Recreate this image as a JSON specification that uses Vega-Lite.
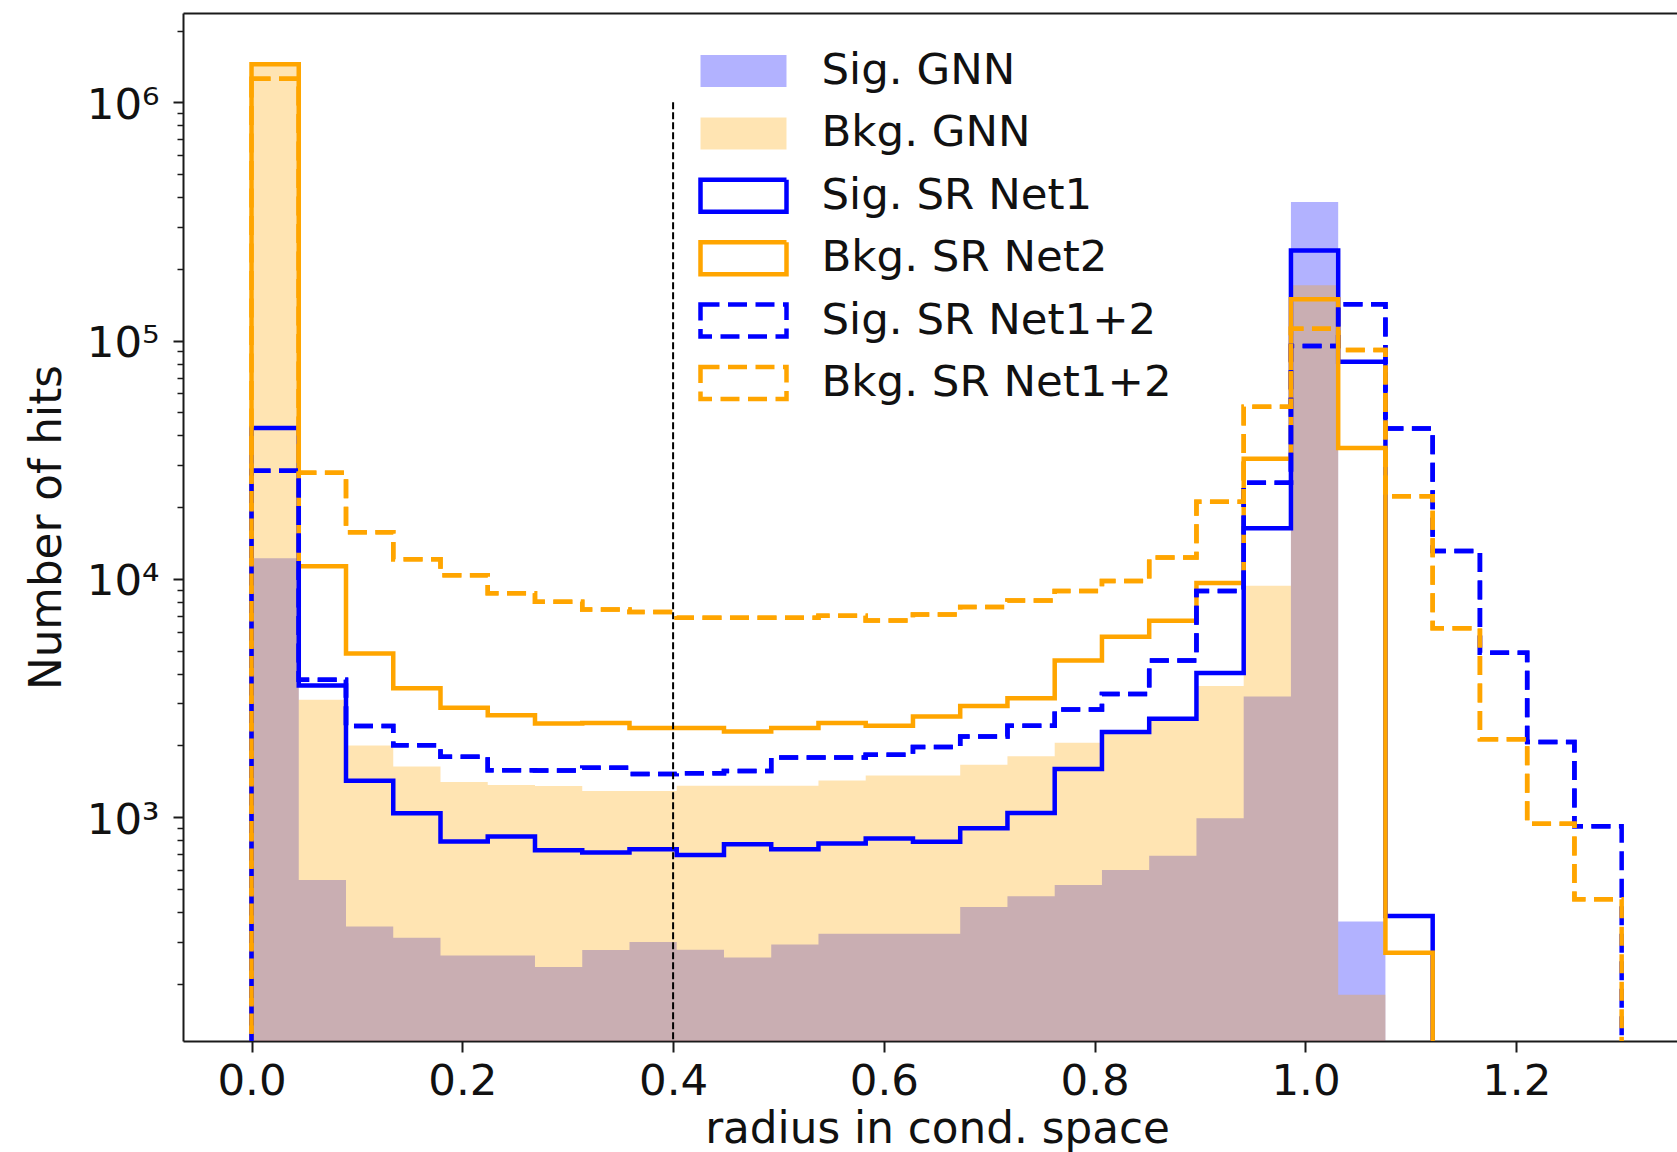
{
  "$schema": "https://vega.github.io/schema/vega-lite/v6.json",
  "autosize": {"type": "none"},
  "padding": {"left": 183, "top": 13, "right": 0, "bottom": 111},
  "width": 1494,
  "height": 1028,
  "background": "white",
  "config": {
    "view": {"stroke": null},
    "font": "DejaVu Sans",
    "axis": {
      "grid": false,
      "zindex": 1,
      "domainColor": "#1a1a1a",
      "domainWidth": 2,
      "tickColor": "#1a1a1a",
      "tickWidth": 2,
      "labelFont": "DejaVu Sans",
      "labelFontSize": 43.5,
      "labelColor": "#111",
      "titleFont": "DejaVu Sans",
      "titleFontSize": 43.7,
      "titleFontWeight": "normal",
      "titleColor": "#111"
    },
    "legend": {
      "orient": "none",
      "legendX": 515,
      "legendY": 37,
      "symbolType": "M-1,-0.372H1V0.372H-1Z",
      "symbolSize": 7396,
      "symbolStrokeWidth": 4.5,
      "labelFont": "DejaVu Sans",
      "labelFontSize": 43.5,
      "labelColor": "#111",
      "labelOffset": 32.5,
      "rowPadding": 18.4,
      "clipHeight": 42,
      "labelLimit": 800,
      "padding": 0
    }
  },
  "datasets": {
    "hist": [
      {"s":"Sig. GNN","x0":0,"x1":0.044828,"v":12200},
      {"s":"Sig. GNN","x0":0.044828,"x1":0.089655,"v":545},
      {"s":"Sig. GNN","x0":0.089655,"x1":0.134483,"v":348},
      {"s":"Sig. GNN","x0":0.134483,"x1":0.17931,"v":312},
      {"s":"Sig. GNN","x0":0.17931,"x1":0.224138,"v":263},
      {"s":"Sig. GNN","x0":0.224138,"x1":0.268966,"v":263},
      {"s":"Sig. GNN","x0":0.268966,"x1":0.313793,"v":235},
      {"s":"Sig. GNN","x0":0.313793,"x1":0.358621,"v":277},
      {"s":"Sig. GNN","x0":0.358621,"x1":0.403448,"v":299},
      {"s":"Sig. GNN","x0":0.403448,"x1":0.448276,"v":278},
      {"s":"Sig. GNN","x0":0.448276,"x1":0.493103,"v":258},
      {"s":"Sig. GNN","x0":0.493103,"x1":0.537931,"v":292},
      {"s":"Sig. GNN","x0":0.537931,"x1":0.582759,"v":324},
      {"s":"Sig. GNN","x0":0.582759,"x1":0.627586,"v":324},
      {"s":"Sig. GNN","x0":0.627586,"x1":0.672414,"v":324},
      {"s":"Sig. GNN","x0":0.672414,"x1":0.717241,"v":420},
      {"s":"Sig. GNN","x0":0.717241,"x1":0.762069,"v":466},
      {"s":"Sig. GNN","x0":0.762069,"x1":0.806897,"v":519},
      {"s":"Sig. GNN","x0":0.806897,"x1":0.851724,"v":600},
      {"s":"Sig. GNN","x0":0.851724,"x1":0.896552,"v":688},
      {"s":"Sig. GNN","x0":0.896552,"x1":0.941379,"v":990},
      {"s":"Sig. GNN","x0":0.941379,"x1":0.986207,"v":3210},
      {"s":"Sig. GNN","x0":0.986207,"x1":1.031034,"v":382000},
      {"s":"Sig. GNN","x0":1.031034,"x1":1.075862,"v":365},

      {"s":"Bkg. GNN","x0":0,"x1":0.044828,"v":1430000},
      {"s":"Bkg. GNN","x0":0.044828,"x1":0.089655,"v":3108},
      {"s":"Bkg. GNN","x0":0.089655,"x1":0.134483,"v":2000},
      {"s":"Bkg. GNN","x0":0.134483,"x1":0.17931,"v":1630},
      {"s":"Bkg. GNN","x0":0.17931,"x1":0.224138,"v":1405},
      {"s":"Bkg. GNN","x0":0.224138,"x1":0.268966,"v":1365},
      {"s":"Bkg. GNN","x0":0.268966,"x1":0.313793,"v":1350},
      {"s":"Bkg. GNN","x0":0.313793,"x1":0.358621,"v":1289},
      {"s":"Bkg. GNN","x0":0.358621,"x1":0.403448,"v":1289},
      {"s":"Bkg. GNN","x0":0.403448,"x1":0.448276,"v":1354},
      {"s":"Bkg. GNN","x0":0.448276,"x1":0.493103,"v":1354},
      {"s":"Bkg. GNN","x0":0.493103,"x1":0.537931,"v":1354},
      {"s":"Bkg. GNN","x0":0.537931,"x1":0.582759,"v":1426},
      {"s":"Bkg. GNN","x0":0.582759,"x1":0.627586,"v":1496},
      {"s":"Bkg. GNN","x0":0.627586,"x1":0.672414,"v":1496},
      {"s":"Bkg. GNN","x0":0.672414,"x1":0.717241,"v":1660},
      {"s":"Bkg. GNN","x0":0.717241,"x1":0.762069,"v":1803},
      {"s":"Bkg. GNN","x0":0.762069,"x1":0.806897,"v":2055},
      {"s":"Bkg. GNN","x0":0.806897,"x1":0.851724,"v":2245},
      {"s":"Bkg. GNN","x0":0.851724,"x1":0.896552,"v":2540},
      {"s":"Bkg. GNN","x0":0.896552,"x1":0.941379,"v":3550},
      {"s":"Bkg. GNN","x0":0.941379,"x1":0.986207,"v":9350},
      {"s":"Bkg. GNN","x0":0.986207,"x1":1.031034,"v":170600},
      {"s":"Bkg. GNN","x0":1.031034,"x1":1.075862,"v":180},

      {"s":"Sig. SR Net1","x0":0,"x1":0.044828,"v":42950},
      {"s":"Sig. SR Net1","x0":0.044828,"x1":0.089655,"v":3568},
      {"s":"Sig. SR Net1","x0":0.089655,"x1":0.134483,"v":1423},
      {"s":"Sig. SR Net1","x0":0.134483,"x1":0.17931,"v":1038},
      {"s":"Sig. SR Net1","x0":0.17931,"x1":0.224138,"v":791},
      {"s":"Sig. SR Net1","x0":0.224138,"x1":0.268966,"v":830},
      {"s":"Sig. SR Net1","x0":0.268966,"x1":0.313793,"v":727},
      {"s":"Sig. SR Net1","x0":0.313793,"x1":0.358621,"v":711},
      {"s":"Sig. SR Net1","x0":0.358621,"x1":0.403448,"v":733},
      {"s":"Sig. SR Net1","x0":0.403448,"x1":0.448276,"v":693},
      {"s":"Sig. SR Net1","x0":0.448276,"x1":0.493103,"v":769},
      {"s":"Sig. SR Net1","x0":0.493103,"x1":0.537931,"v":733},
      {"s":"Sig. SR Net1","x0":0.537931,"x1":0.582759,"v":775},
      {"s":"Sig. SR Net1","x0":0.582759,"x1":0.627586,"v":813},
      {"s":"Sig. SR Net1","x0":0.627586,"x1":0.672414,"v":789},
      {"s":"Sig. SR Net1","x0":0.672414,"x1":0.717241,"v":898},
      {"s":"Sig. SR Net1","x0":0.717241,"x1":0.762069,"v":1041},
      {"s":"Sig. SR Net1","x0":0.762069,"x1":0.806897,"v":1593},
      {"s":"Sig. SR Net1","x0":0.806897,"x1":0.851724,"v":2275},
      {"s":"Sig. SR Net1","x0":0.851724,"x1":0.896552,"v":2590},
      {"s":"Sig. SR Net1","x0":0.896552,"x1":0.941379,"v":4032},
      {"s":"Sig. SR Net1","x0":0.941379,"x1":0.986207,"v":16300},
      {"s":"Sig. SR Net1","x0":0.986207,"x1":1.031034,"v":239000},
      {"s":"Sig. SR Net1","x0":1.031034,"x1":1.075862,"v":81500},
      {"s":"Sig. SR Net1","x0":1.075862,"x1":1.12069,"v":385},

      {"s":"Bkg. SR Net2","x0":0,"x1":0.044828,"v":1445000},
      {"s":"Bkg. SR Net2","x0":0.044828,"x1":0.089655,"v":11300},
      {"s":"Bkg. SR Net2","x0":0.089655,"x1":0.134483,"v":4866},
      {"s":"Bkg. SR Net2","x0":0.134483,"x1":0.17931,"v":3475},
      {"s":"Bkg. SR Net2","x0":0.17931,"x1":0.224138,"v":2876},
      {"s":"Bkg. SR Net2","x0":0.224138,"x1":0.268966,"v":2680},
      {"s":"Bkg. SR Net2","x0":0.268966,"x1":0.313793,"v":2470},
      {"s":"Bkg. SR Net2","x0":0.313793,"x1":0.358621,"v":2483},
      {"s":"Bkg. SR Net2","x0":0.358621,"x1":0.403448,"v":2366},
      {"s":"Bkg. SR Net2","x0":0.403448,"x1":0.448276,"v":2366},
      {"s":"Bkg. SR Net2","x0":0.448276,"x1":0.493103,"v":2291},
      {"s":"Bkg. SR Net2","x0":0.493103,"x1":0.537931,"v":2366},
      {"s":"Bkg. SR Net2","x0":0.537931,"x1":0.582759,"v":2483},
      {"s":"Bkg. SR Net2","x0":0.582759,"x1":0.627586,"v":2421},
      {"s":"Bkg. SR Net2","x0":0.627586,"x1":0.672414,"v":2645},
      {"s":"Bkg. SR Net2","x0":0.672414,"x1":0.717241,"v":2931},
      {"s":"Bkg. SR Net2","x0":0.717241,"x1":0.762069,"v":3159},
      {"s":"Bkg. SR Net2","x0":0.762069,"x1":0.806897,"v":4540},
      {"s":"Bkg. SR Net2","x0":0.806897,"x1":0.851724,"v":5710},
      {"s":"Bkg. SR Net2","x0":0.851724,"x1":0.896552,"v":6680},
      {"s":"Bkg. SR Net2","x0":0.896552,"x1":0.941379,"v":9600},
      {"s":"Bkg. SR Net2","x0":0.941379,"x1":0.986207,"v":31900},
      {"s":"Bkg. SR Net2","x0":0.986207,"x1":1.031034,"v":149000},
      {"s":"Bkg. SR Net2","x0":1.031034,"x1":1.075862,"v":35400},
      {"s":"Bkg. SR Net2","x0":1.075862,"x1":1.12069,"v":270},

      {"s":"Sig. SR Net1+2","x0":0,"x1":0.044828,"v":28400},
      {"s":"Sig. SR Net1+2","x0":0.044828,"x1":0.089655,"v":3776},
      {"s":"Sig. SR Net1+2","x0":0.089655,"x1":0.134483,"v":2416},
      {"s":"Sig. SR Net1+2","x0":0.134483,"x1":0.17931,"v":2004},
      {"s":"Sig. SR Net1+2","x0":0.17931,"x1":0.224138,"v":1793},
      {"s":"Sig. SR Net1+2","x0":0.224138,"x1":0.268966,"v":1574},
      {"s":"Sig. SR Net1+2","x0":0.268966,"x1":0.313793,"v":1570},
      {"s":"Sig. SR Net1+2","x0":0.313793,"x1":0.358621,"v":1611},
      {"s":"Sig. SR Net1+2","x0":0.358621,"x1":0.403448,"v":1519},
      {"s":"Sig. SR Net1+2","x0":0.403448,"x1":0.448276,"v":1530},
      {"s":"Sig. SR Net1+2","x0":0.448276,"x1":0.493103,"v":1564},
      {"s":"Sig. SR Net1+2","x0":0.493103,"x1":0.537931,"v":1781},
      {"s":"Sig. SR Net1+2","x0":0.537931,"x1":0.582759,"v":1781},
      {"s":"Sig. SR Net1+2","x0":0.582759,"x1":0.627586,"v":1827},
      {"s":"Sig. SR Net1+2","x0":0.627586,"x1":0.672414,"v":1968},
      {"s":"Sig. SR Net1+2","x0":0.672414,"x1":0.717241,"v":2183},
      {"s":"Sig. SR Net1+2","x0":0.717241,"x1":0.762069,"v":2421},
      {"s":"Sig. SR Net1+2","x0":0.762069,"x1":0.806897,"v":2830},
      {"s":"Sig. SR Net1+2","x0":0.806897,"x1":0.851724,"v":3290},
      {"s":"Sig. SR Net1+2","x0":0.851724,"x1":0.896552,"v":4540},
      {"s":"Sig. SR Net1+2","x0":0.896552,"x1":0.941379,"v":8900},
      {"s":"Sig. SR Net1+2","x0":0.941379,"x1":0.986207,"v":25300},
      {"s":"Sig. SR Net1+2","x0":0.986207,"x1":1.031034,"v":95000},
      {"s":"Sig. SR Net1+2","x0":1.031034,"x1":1.075862,"v":142000},
      {"s":"Sig. SR Net1+2","x0":1.075862,"x1":1.12069,"v":42800},
      {"s":"Sig. SR Net1+2","x0":1.12069,"x1":1.165517,"v":13100},
      {"s":"Sig. SR Net1+2","x0":1.165517,"x1":1.210345,"v":4900},
      {"s":"Sig. SR Net1+2","x0":1.210345,"x1":1.255172,"v":2070},
      {"s":"Sig. SR Net1+2","x0":1.255172,"x1":1.3,"v":915},

      {"s":"Bkg. SR Net1+2","x0":0,"x1":0.044828,"v":1256000},
      {"s":"Bkg. SR Net1+2","x0":0.044828,"x1":0.089655,"v":27870},
      {"s":"Bkg. SR Net1+2","x0":0.089655,"x1":0.134483,"v":15680},
      {"s":"Bkg. SR Net1+2","x0":0.134483,"x1":0.17931,"v":12100},
      {"s":"Bkg. SR Net1+2","x0":0.17931,"x1":0.224138,"v":10350},
      {"s":"Bkg. SR Net1+2","x0":0.224138,"x1":0.268966,"v":8710},
      {"s":"Bkg. SR Net1+2","x0":0.268966,"x1":0.313793,"v":8010},
      {"s":"Bkg. SR Net1+2","x0":0.313793,"x1":0.358621,"v":7445},
      {"s":"Bkg. SR Net1+2","x0":0.358621,"x1":0.403448,"v":7260},
      {"s":"Bkg. SR Net1+2","x0":0.403448,"x1":0.448276,"v":6870},
      {"s":"Bkg. SR Net1+2","x0":0.448276,"x1":0.493103,"v":6870},
      {"s":"Bkg. SR Net1+2","x0":0.493103,"x1":0.537931,"v":6870},
      {"s":"Bkg. SR Net1+2","x0":0.537931,"x1":0.582759,"v":6995},
      {"s":"Bkg. SR Net1+2","x0":0.582759,"x1":0.627586,"v":6693},
      {"s":"Bkg. SR Net1+2","x0":0.627586,"x1":0.672414,"v":7080},
      {"s":"Bkg. SR Net1+2","x0":0.672414,"x1":0.717241,"v":7620},
      {"s":"Bkg. SR Net1+2","x0":0.717241,"x1":0.762069,"v":8110},
      {"s":"Bkg. SR Net1+2","x0":0.762069,"x1":0.806897,"v":8900},
      {"s":"Bkg. SR Net1+2","x0":0.806897,"x1":0.851724,"v":9800},
      {"s":"Bkg. SR Net1+2","x0":0.851724,"x1":0.896552,"v":12300},
      {"s":"Bkg. SR Net1+2","x0":0.896552,"x1":0.941379,"v":21050},
      {"s":"Bkg. SR Net1+2","x0":0.941379,"x1":0.986207,"v":52800},
      {"s":"Bkg. SR Net1+2","x0":0.986207,"x1":1.031034,"v":112000},
      {"s":"Bkg. SR Net1+2","x0":1.031034,"x1":1.075862,"v":91300},
      {"s":"Bkg. SR Net1+2","x0":1.075862,"x1":1.12069,"v":22200},
      {"s":"Bkg. SR Net1+2","x0":1.12069,"x1":1.165517,"v":6200},
      {"s":"Bkg. SR Net1+2","x0":1.165517,"x1":1.210345,"v":2125},
      {"s":"Bkg. SR Net1+2","x0":1.210345,"x1":1.255172,"v":938},
      {"s":"Bkg. SR Net1+2","x0":1.255172,"x1":1.3,"v":452}
    ],
    "cut": [{"r": 0.4, "top": 1000000}]
  },
  "layer": [
    {
      "data": {"name": "hist"},
      "transform": [{"fold": ["x0", "x1"], "as": ["edge", "xv"]}],
      "encoding": {
        "x": {
          "field": "xv", "type": "quantitative",
          "scale": {"domain": [-0.065, 1.3525], "nice": false, "zero": false},
          "axis": {
            "orient": "bottom",
            "values": [0, 0.2, 0.4, 0.6, 0.8, 1.0, 1.2],
            "format": ".1f",
            "tickSize": 11,
            "labelPadding": 8,
            "title": "radius in cond. space",
            "titlePadding": 5,
            "titleX": 754
          }
        },
        "y": {
          "field": "v", "type": "quantitative", "stack": null,
          "scale": {"type": "log", "domain": [115, 2370000], "nice": false},
          "axis": {
            "orient": "left",
            "values": [200,300,400,500,600,700,800,900,1000,2000,3000,4000,5000,6000,7000,8000,9000,10000,20000,30000,40000,50000,60000,70000,80000,90000,100000,200000,300000,400000,500000,600000,700000,800000,900000,1000000,2000000],
            "labelExpr": "datum.value == 1000 ? '10³' : datum.value == 10000 ? '10⁴' : datum.value == 100000 ? '10⁵' : datum.value == 1000000 ? '10⁶' : ''",
            "tickSize": {"condition": {"test": "indexof([1000,10000,100000,1000000], datum.value) >= 0", "value": 10}, "value": 6},
            "tickWidth": {"condition": {"test": "indexof([1000,10000,100000,1000000], datum.value) >= 0", "value": 2}, "value": 1.5},
            "labelPadding": 14,
            "labelOffset": 3,
            "title": "Number of hits",
            "titlePadding": 17
          }
        },
        "fill": {
          "field": "s", "type": "nominal",
          "scale": {
            "domain": ["Sig. GNN", "Bkg. GNN", "Sig. SR Net1", "Bkg. SR Net2", "Sig. SR Net1+2", "Bkg. SR Net1+2"],
            "range": ["rgba(0,0,255,0.3)", "rgba(255,165,0,0.3)", "transparent", "transparent", "transparent", "transparent"]
          },
          "legend": {"title": null, "symbolType": "M-1,-0.372H1V0.372H-1Z"}
        },
        "stroke": {
          "field": "s", "type": "nominal",
          "scale": {
            "domain": ["Sig. GNN", "Bkg. GNN", "Sig. SR Net1", "Bkg. SR Net2", "Sig. SR Net1+2", "Bkg. SR Net1+2"],
            "range": ["transparent", "transparent", "#0000ff", "#ffa500", "#0000ff", "#ffa500"]
          },
          "legend": {"title": null, "symbolType": "M-1,-0.372H1V0.372H-1Z"}
        }
      },
      "layer": [
        {"transform": [{"filter": "datum.s === 'Sig. GNN'"}], "mark": {"type": "area", "clip": true, "strokeWidth": 4.5}, "encoding": {"y2": {"datum": 1}}},
        {"transform": [{"filter": "datum.s === 'Bkg. GNN'"}], "mark": {"type": "area", "clip": true, "strokeWidth": 4.5}, "encoding": {"y2": {"datum": 1}}},
        {"transform": [{"filter": "datum.s === 'Sig. SR Net1'"}], "mark": {"type": "area", "clip": true, "strokeWidth": 4.5}, "encoding": {"y2": {"datum": 1}}},
        {"transform": [{"filter": "datum.s === 'Bkg. SR Net2'"}], "mark": {"type": "area", "clip": true, "strokeWidth": 4.5}, "encoding": {"y2": {"datum": 1}}},
        {"transform": [{"filter": "datum.s === 'Sig. SR Net1+2'"}], "mark": {"type": "area", "clip": true, "strokeWidth": 4.5, "strokeDash": [19, 8.5]}, "encoding": {"y2": {"datum": 1}}},
        {"transform": [{"filter": "datum.s === 'Sig. SR Net1+2'"}], "mark": {"type": "line", "clip": true, "strokeWidth": 4.5},
         "encoding": {"strokeDash": {"field": "s", "type": "nominal",
           "scale": {"domain": ["Sig. GNN", "Bkg. GNN", "Sig. SR Net1", "Bkg. SR Net2", "Sig. SR Net1+2", "Bkg. SR Net1+2"], "range": [[1, 0], [1, 0], [1, 0], [1, 0], [19, 8.5], [19, 8.5]]},
           "legend": {"title": null, "symbolType": "M-1,-0.372H1V0.372H-1Z"}}}},
        {"transform": [{"filter": "datum.s === 'Bkg. SR Net1+2'"}], "mark": {"type": "area", "clip": true, "strokeWidth": 4.5, "strokeDash": [19, 8.5]}, "encoding": {"y2": {"datum": 1}}},
        {"transform": [{"filter": "datum.s === 'Bkg. SR Net1+2'"}], "mark": {"type": "line", "clip": true, "strokeWidth": 4.5},
         "encoding": {"strokeDash": {"field": "s", "type": "nominal",
           "scale": {"domain": ["Sig. GNN", "Bkg. GNN", "Sig. SR Net1", "Bkg. SR Net2", "Sig. SR Net1+2", "Bkg. SR Net1+2"], "range": [[1, 0], [1, 0], [1, 0], [1, 0], [19, 8.5], [19, 8.5]]},
           "legend": {"title": null, "symbolType": "M-1,-0.372H1V0.372H-1Z"}}}}
      ]
    },
    {
      "data": {"name": "cut"},
      "mark": {"type": "rule", "clip": true, "color": "black", "strokeWidth": 2, "strokeDash": [7, 3]},
      "encoding": {
        "x": {
          "field": "r", "type": "quantitative",
          "scale": {"domain": [-0.065, 1.3525], "nice": false, "zero": false},
          "axis": {"orient": "top", "labels": false, "ticks": false, "title": null, "domain": true}
        },
        "y": {
          "field": "top", "type": "quantitative",
          "scale": {"type": "log", "domain": [115, 2370000], "nice": false},
          "axis": null
        },
        "y2": {"datum": 1}
      }
    }
  ],
  "resolve": {"axis": {"x": "independent", "y": "independent"}}
}
